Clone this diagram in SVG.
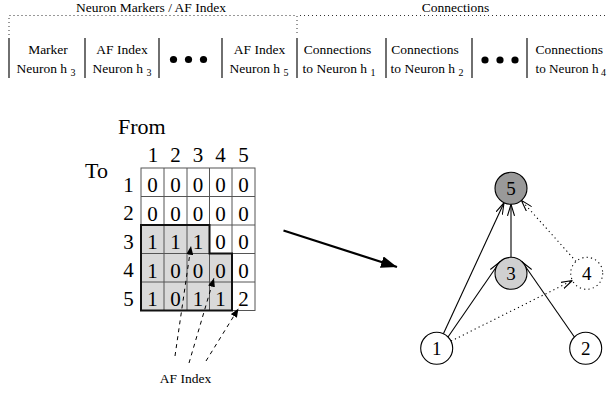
<svg xmlns="http://www.w3.org/2000/svg" width="607" height="394" viewBox="0 0 607 394">
  <style>
    text { font-family: "Liberation Serif", "Tinos", "Times New Roman", Times, "DejaVu Serif", serif; fill: #000; }
    .hdr { font-size: 13.5px; text-anchor: middle; }
    .cell { font-size: 13.5px; text-anchor: middle; }
    .sub { font-size: 10px; }
    .sep { stroke: #333; stroke-width: 1.4; }
    .brace { stroke: #333; stroke-width: 1; stroke-dasharray: 1 3; fill: none; }
    .big { font-size: 22px; }
    .num { font-size: 21px; text-anchor: middle; }
    .lbl { font-size: 21px; text-anchor: middle; }
    .ndig { font-size: 19px; text-anchor: middle; }
    .grid { stroke: #555; stroke-width: 1; fill: none; }
    .edge { stroke: #000; stroke-width: 1.1; fill: none; marker-end: url(#vee); }
    .dotted { stroke-dasharray: 1.2 3.2; }
    .node { stroke: #000; stroke-width: 1.1; }
    .af { stroke: #000; stroke-width: 1; stroke-dasharray: 4 4; fill: none; marker-end: url(#tri); }
  </style>
  <defs>
    <marker id="vee" viewBox="0 0 12 8" refX="11.5" refY="4" markerWidth="12" markerHeight="8" markerUnits="userSpaceOnUse" orient="auto">
      <path d="M0,0.5 L11.5,4 L0,7.5" fill="none" stroke="#000" stroke-width="1.1"/>
    </marker>
    <marker id="tri" viewBox="0 0 10 8" refX="10" refY="4" markerWidth="9" markerHeight="7" markerUnits="userSpaceOnUse" orient="auto">
      <path d="M0,0 L10,4 L0,8 z" fill="#000"/>
    </marker>
    <marker id="bigtri" viewBox="0 0 16 12" refX="16" refY="6" markerWidth="16" markerHeight="12" markerUnits="userSpaceOnUse" orient="auto">
      <path d="M0,0 L16,6 L0,12 z" fill="#000"/>
    </marker>
  </defs>

  <!-- record layout header -->
  <g id="layout">
    <text class="hdr" x="151" y="12">Neuron Markers / AF Index</text>
    <text class="hdr" x="455.5" y="12">Connections</text>
    <path class="brace" d="M9,35 L9,15.5 L297,15.5 L297,35"/>
    <path class="brace" d="M300,15.5 L607,15.5"/>
    <g>
      <line class="sep" x1="9" y1="38" x2="9" y2="78"/>
      <line class="sep" x1="85" y1="38" x2="85" y2="78"/>
      <line class="sep" x1="159" y1="38" x2="159" y2="78"/>
      <line class="sep" x1="222" y1="38" x2="222" y2="78"/>
      <line class="sep" x1="297" y1="38" x2="297" y2="78"/>
      <line class="sep" x1="386" y1="38" x2="386" y2="78"/>
      <line class="sep" x1="472" y1="38" x2="472" y2="78"/>
      <line class="sep" x1="527" y1="38" x2="527" y2="78"/>
    </g>
    <g id="field-marker">
      <text class="cell" x="48" y="53.5">Marker</text>
      <text class="cell" x="46" y="72.5">Neuron h <tspan class="sub" dy="3">3</tspan></text>
    </g>
    <g id="field-af3">
      <text class="cell" x="122" y="53.5">AF Index</text>
      <text class="cell" x="122" y="72.5">Neuron h <tspan class="sub" dy="3">3</tspan></text>
    </g>
    <g id="field-dots1">
      <circle cx="173.5" cy="59.5" r="3.6"/>
      <circle cx="188.5" cy="59.5" r="3.6"/>
      <circle cx="203.5" cy="59.5" r="3.6"/>
    </g>
    <g id="field-af5">
      <text class="cell" x="259.5" y="53.5">AF Index</text>
      <text class="cell" x="259" y="72.5">Neuron h <tspan class="sub" dy="3">5</tspan></text>
    </g>
    <g id="field-c1">
      <text class="cell" x="337.5" y="53.5">Connections</text>
      <text class="cell" x="339" y="72.5">to Neuron h <tspan class="sub" dy="3">1</tspan></text>
    </g>
    <g id="field-c2">
      <text class="cell" x="425" y="53.5">Connections</text>
      <text class="cell" x="427" y="72.5">to Neuron h <tspan class="sub" dy="3">2</tspan></text>
    </g>
    <g id="field-dots2">
      <circle cx="485" cy="60" r="3.6"/>
      <circle cx="500" cy="60" r="3.6"/>
      <circle cx="515" cy="60" r="3.6"/>
    </g>
    <g id="field-c4">
      <text x="535.5" y="53.5" font-size="13.5">Connections</text>
      <text x="535.5" y="72.5" font-size="13.2">to Neuron h<tspan class="sub" dx="2.5" dy="3">4</tspan></text>
    </g>
  </g>

  <!-- adjacency matrix -->
  <g id="matrix">
    <text class="big" x="118" y="133.5">From</text>
    <text class="big" x="85" y="178">To</text>
    <g class="lbl">
      <text x="153" y="161.5">1</text>
      <text x="175.5" y="161.5">2</text>
      <text x="198" y="161.5">3</text>
      <text x="220.5" y="161.5">4</text>
      <text x="243.5" y="161.5">5</text>
      <text x="128.5" y="191.5">1</text>
      <text x="128.5" y="220">2</text>
      <text x="128.5" y="248.5">3</text>
      <text x="128.5" y="277">4</text>
      <text x="128.5" y="305.5">5</text>
    </g>
    <path d="M141,225 H209.5 V253.5 H232 V310.5 H141 Z" fill="#d9d9d9"/>
    <g class="grid">
      <rect x="141" y="168" width="114" height="142.5"/>
      <line x1="164" y1="168" x2="164" y2="310.5"/>
      <line x1="187" y1="168" x2="187" y2="310.5"/>
      <line x1="209.5" y1="168" x2="209.5" y2="310.5"/>
      <line x1="232" y1="168" x2="232" y2="310.5"/>
      <line x1="141" y1="196.5" x2="255" y2="196.5"/>
      <line x1="141" y1="225" x2="255" y2="225"/>
      <line x1="141" y1="253.5" x2="255" y2="253.5"/>
      <line x1="141" y1="282" x2="255" y2="282"/>
    </g>
    <path d="M141,225 H209.5 V253.5 H232 V310.5 H141 Z" fill="none" stroke="#111" stroke-width="2"/>
    <g class="num">
      <text x="152.5" y="192">0</text><text x="175.5" y="192">0</text><text x="198" y="192">0</text><text x="220.5" y="192">0</text><text x="243.5" y="192">0</text>
      <text x="152.5" y="220.5">0</text><text x="175.5" y="220.5">0</text><text x="198" y="220.5">0</text><text x="220.5" y="220.5">0</text><text x="243.5" y="220.5">0</text>
      <text x="152.5" y="249">1</text><text x="175.5" y="249">1</text><text x="198" y="249">1</text><text x="220.5" y="249">0</text><text x="243.5" y="249">0</text>
      <text x="152.5" y="277.5">1</text><text x="175.5" y="277.5">0</text><text x="198" y="277.5">0</text><text x="220.5" y="277.5">0</text><text x="243.5" y="277.5">0</text>
      <text x="152.5" y="306">1</text><text x="175.5" y="306">0</text><text x="198" y="306">1</text><text x="220.5" y="306">1</text><text x="243.5" y="306">2</text>
    </g>
    <g id="af-label">
      <text class="cell" x="185.5" y="383">AF Index</text>
      <path class="af" d="M175,356 L191,246"/>
      <path class="af" d="M189,363 L214,278"/>
      <path class="af" d="M206,361 L238.5,308.5"/>
    </g>
  </g>

  <!-- matrix to graph -->
  <g id="transform-arrow">
    <line x1="283.5" y1="230.5" x2="397" y2="267" stroke="#000" stroke-width="2.2" marker-end="url(#bigtri)"/>
  </g>

  <!-- network graph -->
  <g id="edges">
    <line class="edge" x1="443.4" y1="333.8" x2="504" y2="202.8"/>
    <line class="edge" x1="448" y1="337" x2="499.7" y2="262"/>
    <line class="edge" x1="511" y1="257.3" x2="511" y2="204.3"/>
    <line class="edge" x1="574.4" y1="337" x2="522.3" y2="262"/>
    <line class="edge dotted" x1="451" y1="341.1" x2="572.4" y2="280.5"/>
    <line class="edge dotted" x1="576" y1="261.4" x2="521.4" y2="200.4"/>
  </g>
  <g id="n5">
    <circle class="node" cx="511" cy="188.3" r="16" fill="#999"/>
    <text class="ndig" x="511" y="195">5</text>
  </g>
  <g id="n3">
    <circle class="node" cx="511" cy="273.3" r="16" fill="#d0d0d0"/>
    <text class="ndig" x="511" y="280">3</text>
  </g>
  <g id="n4">
    <circle class="node dotted" cx="586.7" cy="273.3" r="16" fill="#fff" stroke-dasharray="1.2 2.8"/>
    <text class="ndig" x="586.7" y="280">4</text>
  </g>
  <g id="n1">
    <circle class="node" cx="436.7" cy="348.3" r="16" fill="#fff"/>
    <text class="ndig" x="436.7" y="355">1</text>
  </g>
  <g id="n2">
    <circle class="node" cx="585.7" cy="348.3" r="16" fill="#fff"/>
    <text class="ndig" x="585.7" y="355">2</text>
  </g>
</svg>
